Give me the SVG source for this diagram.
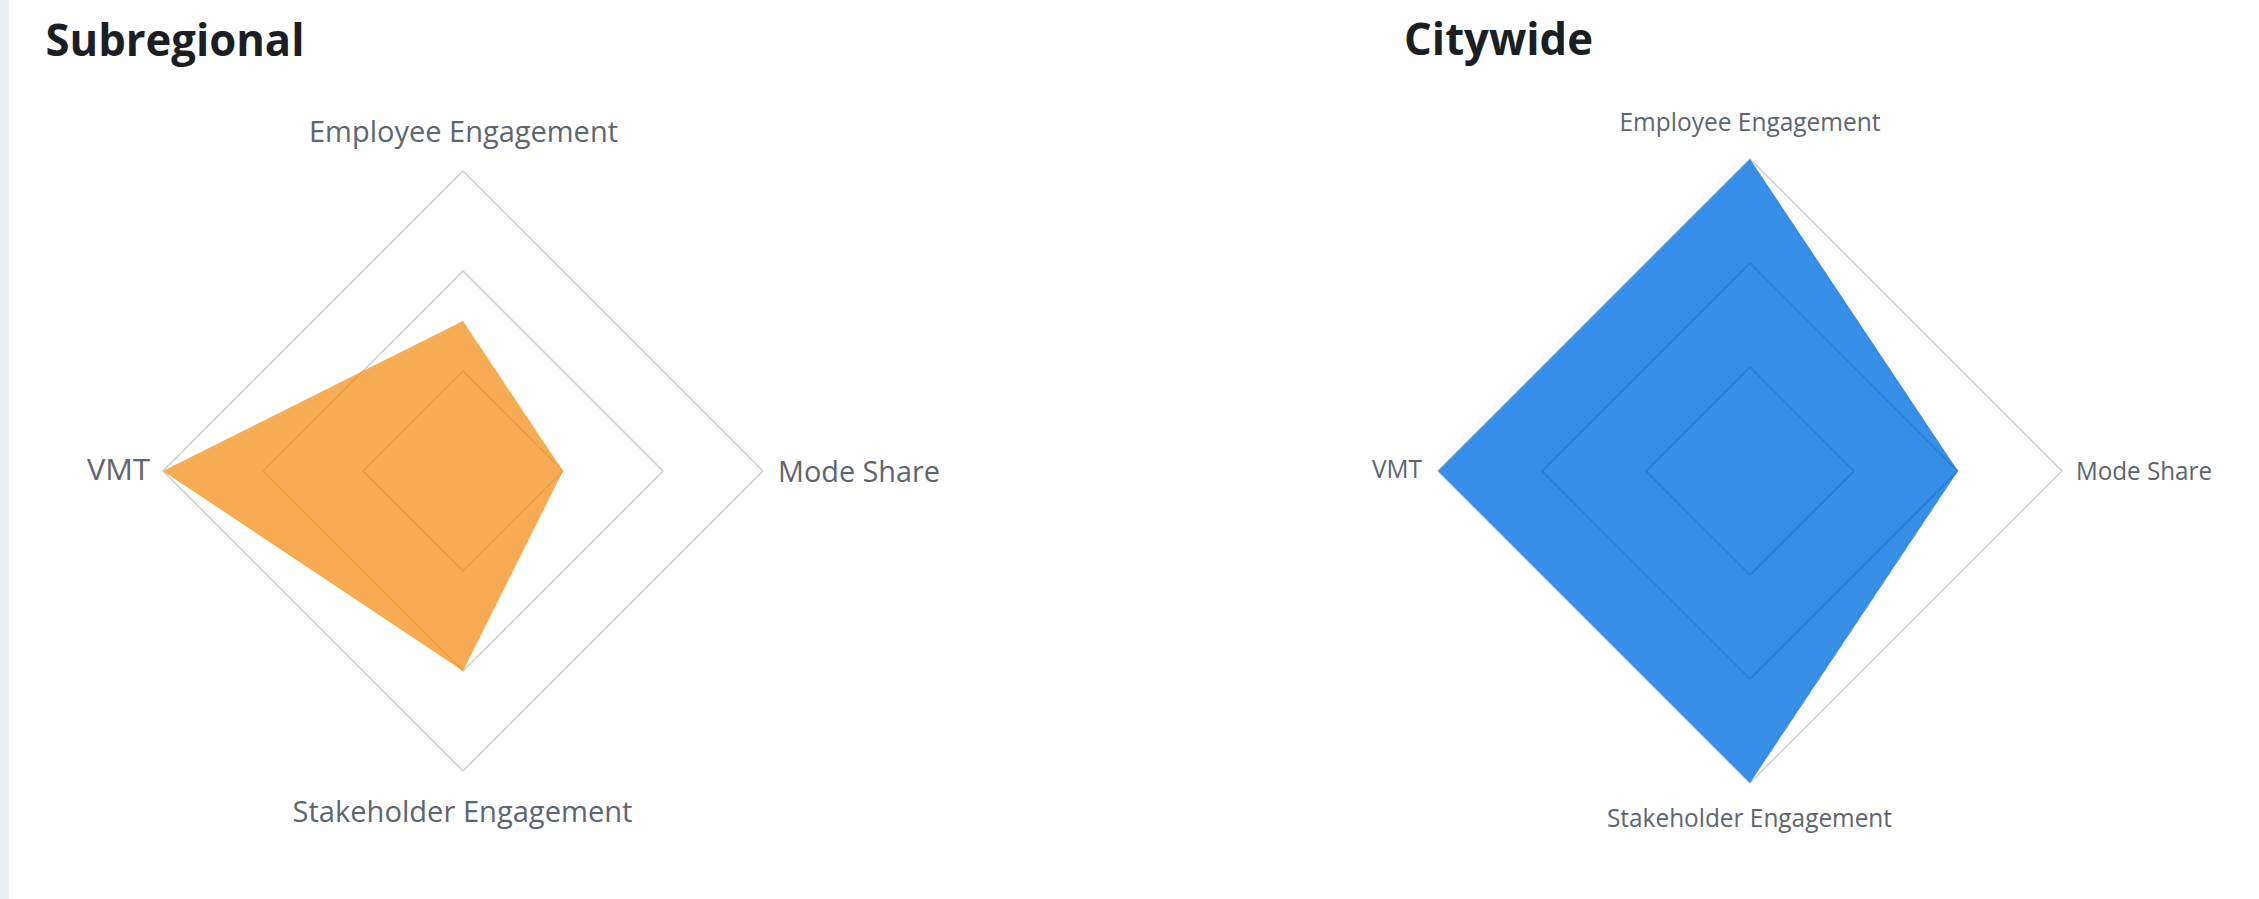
<svg xmlns="http://www.w3.org/2000/svg" width="2259" height="899" viewBox="0 0 2259 899">
<style>
.title{font-family:"Open Sans","Liberation Sans",sans-serif;font-weight:bold;font-size:44px;fill:#1b1f24}
.lblL{font-family:"Open Sans","Liberation Sans",sans-serif;font-size:29px;fill:#5d6570}
.lblR{font-family:"Open Sans","Liberation Sans",sans-serif;font-size:25px;fill:#5d6570}
.grid{fill:none;stroke:#cdcdcd;stroke-width:1.5}
.ringO{fill:none;stroke:#f09a36;stroke-width:1.2}
.ringB{fill:none;stroke:#1f7ade;stroke-width:1.2}
</style>
<defs>
<clipPath id="clipO"><polygon points="463,321 563,471 463,671 163,471"/></clipPath>
<clipPath id="clipB"><polygon points="1750,159 1958,471 1750,783 1438,471"/></clipPath>
</defs>
<rect x="0" y="0" width="2259" height="899" fill="#ffffff"/>
<rect x="0" y="0" width="8.7" height="899" fill="#e9eef1"/>

<g id="subregional">
<text class="title" x="45.5" y="56" textLength="259" lengthAdjust="spacingAndGlyphs">Subregional</text>
<g id="subregional-grid">
<polygon class="grid" points="463,371 563,471 463,571 363,471"/>
<polygon class="grid" points="463,271 663,471 463,671 263,471"/>
<polygon class="grid" points="463,171 763,471 463,771 163,471"/>
</g>
<polygon id="subregional-data" points="463,321 563,471 463,671 163,471" fill="#f7ab52"/>
<g clip-path="url(#clipO)">
<polygon class="ringO" points="463,371 563,471 463,571 363,471"/>
<polygon class="ringO" points="463,271 663,471 463,671 263,471"/>
</g>
<g id="subregional-labels">
<text class="lblL" x="463.5" y="141.5" text-anchor="middle" textLength="309" lengthAdjust="spacingAndGlyphs">Employee Engagement</text>
<text class="lblL" x="778" y="482" textLength="162" lengthAdjust="spacingAndGlyphs">Mode Share</text>
<text class="lblL" x="87" y="480" textLength="63" lengthAdjust="spacingAndGlyphs">VMT</text>
<text class="lblL" x="462.5" y="822" text-anchor="middle" textLength="340" lengthAdjust="spacingAndGlyphs">Stakeholder Engagement</text>
</g>
</g>

<g id="citywide">
<text class="title" x="1404" y="55" textLength="189" lengthAdjust="spacingAndGlyphs">Citywide</text>
<g id="citywide-grid">
<polygon class="grid" points="1750,367 1854,471 1750,575 1646,471"/>
<polygon class="grid" points="1750,263 1958,471 1750,679 1542,471"/>
<polygon class="grid" points="1750,159 2062,471 1750,783 1438,471"/>
</g>
<polygon id="citywide-data" points="1750,159 1958,471 1750,783 1438,471" fill="#378ee7"/>
<g clip-path="url(#clipB)">
<polygon class="ringB" points="1750,367 1854,471 1750,575 1646,471"/>
<polygon class="ringB" points="1750,263 1958,471 1750,679 1542,471"/>
</g>
<g id="citywide-labels">
<text class="lblR" x="1750" y="131" text-anchor="middle" textLength="261" lengthAdjust="spacingAndGlyphs">Employee Engagement</text>
<text class="lblR" x="2076" y="480" textLength="136" lengthAdjust="spacingAndGlyphs">Mode Share</text>
<text class="lblR" x="1372" y="478" textLength="50" lengthAdjust="spacingAndGlyphs">VMT</text>
<text class="lblR" x="1749.5" y="827" text-anchor="middle" textLength="285" lengthAdjust="spacingAndGlyphs">Stakeholder Engagement</text>
</g>
</g>
</svg>
